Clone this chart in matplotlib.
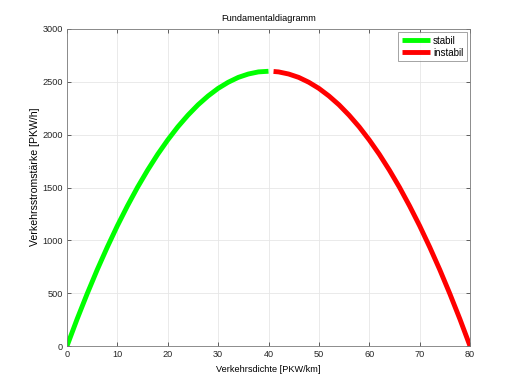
import matplotlib
matplotlib.use("Agg")
import matplotlib.pyplot as plt

plt.rcParams['font.family'] = ['Liberation Sans', 'DejaVu Sans']

k_stabil = [0, 2, 4, 6, 8, 10, 12, 14, 16, 18, 20, 22, 24, 26, 28, 30, 32, 34, 36, 38, 40]
q_stabil = [0, 254, 494, 722, 936, 1138, 1326, 1502, 1664, 1814, 1950, 2074, 2184, 2282,
            2366, 2438, 2496, 2542, 2574, 2594, 2600]
k_instabil = [41, 42, 44, 46, 48, 50, 52, 54, 56, 58, 60, 62, 64, 66, 68, 70, 72, 74, 76, 78, 80]
q_instabil = [2598, 2594, 2574, 2542, 2496, 2438, 2366, 2282, 2184, 2074, 1950, 1814, 1664,
              1502, 1326, 1138, 936, 722, 494, 254, 0]

xticks = [0, 10, 20, 30, 40, 50, 60, 70, 80]
yticks = [0, 500, 1000, 1500, 2000, 2500, 3000]

fs = 6.6

fig = plt.figure(figsize=(5.2, 3.89), dpi=100)
ax = fig.add_axes([67/520, 1-346/389, (470-67)/520, (346-29)/389])

ax.plot(k_stabil, q_stabil, color='#00ff00', lw=3.5, label='stabil', solid_capstyle='butt')
ax.plot(k_instabil, q_instabil, color='#ff0000', lw=3.5, label='instabil', solid_capstyle='butt')

ax.set_xlim(0, 80)
ax.set_ylim(0, 3000)
ax.set_xticks(xticks)
ax.set_yticks(yticks)
ax.tick_params(direction='in', length=3, width=0.5, colors='#262626', labelsize=fs,
               top=True, right=True, pad=3)
ax.grid(True, color='#e6e6e6', lw=0.6, linestyle='-')
ax.set_axisbelow(True)
for s in ax.spines.values():
    s.set_color('#7a7a7a')
    s.set_linewidth(0.6)

ax.set_title('Fundamentaldiagramm', fontsize=fs, pad=6)
ax.set_xlabel('Verkehrsdichte [PKW/km]', fontsize=fs, labelpad=4)
ax.set_ylabel('Verkehrsstromstärke [PKW/h]', fontsize=7.6)
ax.yaxis.set_label_coords(-0.067, 0.533)

leg = ax.legend(loc='upper right', fontsize=fs + 0.4, fancybox=False, edgecolor='#7a7a7a',
                handlelength=2.9, borderpad=0.35, handletextpad=0.3, labelspacing=0.2,
                borderaxespad=0.35)
leg.get_frame().set_linewidth(0.6)

fig.savefig('out.png', dpi=100)
